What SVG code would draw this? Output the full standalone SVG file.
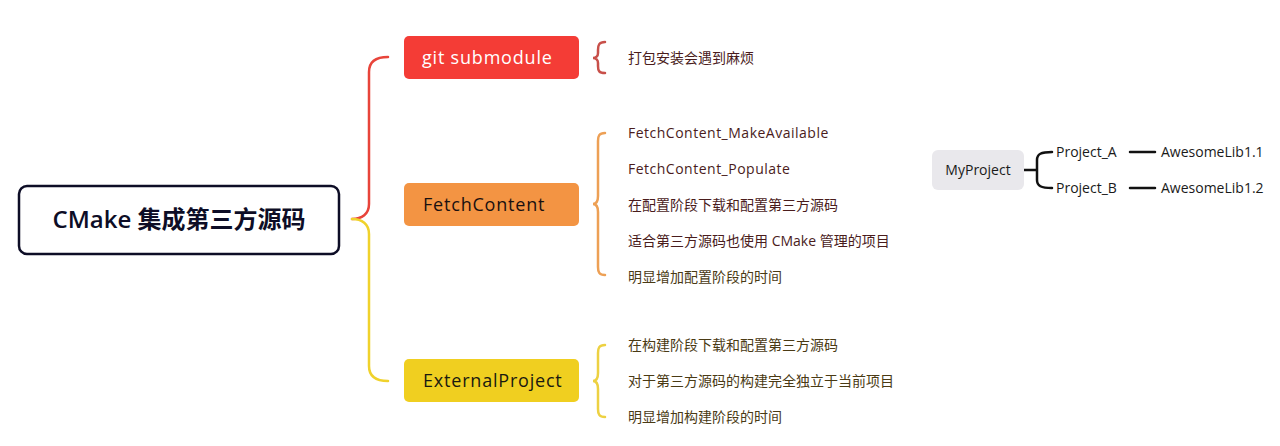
<svg xmlns="http://www.w3.org/2000/svg" width="1280" height="446" viewBox="0 0 1280 446">
<style>
.t{font-family:"Open Sans","Noto Sans CJK SC",sans-serif;}
.leaf{font-size:14px;fill:#4a1c1c;}
.leafY{font-size:14px;fill:#4a3a14;}
.lat{letter-spacing:0.5px;}
.main{font-size:18px;letter-spacing:0.8px;}
.rt{font-size:14px;fill:#1a1a1a;}
.ln{fill:none;stroke-width:2.5;stroke-linecap:round;}
</style>
<rect width="1280" height="446" fill="#ffffff"/>
<g id="connectors">
<path class="ln" stroke="#e8443a" d="M352,219 C362,219 369,214 369,204 L369,72 C369,62 375,57 388,57"/>
<path class="ln" stroke="#f0d22c" d="M352,219 C362,219 369,224 369,234 L369,366 C369,376 375,381 388,381"/>
<path class="ln" stroke="#c8504a" stroke-width="2" d="M605,42 C599,42 598,45 598,50 L598,53 C598,56 596,58 593,58 C596,58 598,60 598,63 L598,66 C598,71 599,73 605,73"/>
<path class="ln" stroke="#eda055" stroke-width="2" d="M605,133 C599,133 598,136 598,141 L598,196 C598,201 596,204 593,204 C596,204 598,207 598,212 L598,267 C598,272 599,275 605,275"/>
<path class="ln" stroke="#edd142" stroke-width="2" d="M605,345 C599,345 598,348 598,353 L598,373 C598,378 596,381 593,381 C596,381 598,384 598,389 L598,409 C598,414 599,417 605,417"/>
<path class="ln" stroke="#111" stroke-width="2" d="M1024,170 L1037,170 M1052,152 C1041,152 1037,154 1037,160 L1037,180 C1037,186 1041,188 1052,188"/>
<path class="ln" stroke="#111" stroke-width="2" d="M1130,152 L1155,152 M1130,188 L1155,188"/>
</g>
<g id="root">
<rect x="19" y="186" width="320" height="68" rx="8" fill="#ffffff" stroke="#0d0d26" stroke-width="2.5"/>
<text class="t" x="179" y="228" text-anchor="middle" font-size="24" font-weight="600" fill="#0d0d26">CMake 集成第三方源码</text>
</g>
<g id="git-submodule">
<rect x="404" y="36" width="175" height="43" rx="5" fill="#f43c36"/>
<text class="t main" x="422" y="64" fill="#ffffff">git submodule</text>
</g>
<g id="git-leaf">
<text class="t leaf" x="628" y="63">打包安装会遇到麻烦</text>
</g>
<g id="fetchcontent">
<rect x="404" y="183" width="175" height="43" rx="5" fill="#f39443"/>
<text class="t main" x="423" y="211" fill="#1a1010">FetchContent</text>
</g>
<g id="fetch-leaves">
<text class="t leaf lat" x="628" y="138">FetchContent_MakeAvailable</text>
<text class="t leaf lat" x="628" y="174">FetchContent_Populate</text>
<text class="t leaf" x="628" y="210">在配置阶段下载和配置第三方源码</text>
<text class="t leaf" x="628" y="246">适合第三方源码也使用 CMake 管理的项目</text>
<text class="t leafY" x="628" y="282">明显增加配置阶段的时间</text>
</g>
<g id="externalproject">
<rect x="404" y="359" width="175" height="43" rx="5" fill="#f0cf20"/>
<text class="t main" x="423" y="387" fill="#1a1a10">ExternalProject</text>
</g>
<g id="external-leaves">
<text class="t leafY" x="628" y="350">在构建阶段下载和配置第三方源码</text>
<text class="t leafY" x="628" y="386">对于第三方源码的构建完全独立于当前项目</text>
<text class="t leafY" x="628" y="422">明显增加构建阶段的时间</text>
</g>
<g id="myproject">
<rect x="932" y="150" width="92" height="40" rx="6" fill="#e9e8ec"/>
<text class="t rt" x="978" y="175" text-anchor="middle">MyProject</text>
</g>
<g id="project-a"><text class="t rt" x="1056" y="157">Project_A</text></g>
<g id="project-b"><text class="t rt" x="1056" y="193">Project_B</text></g>
<g id="lib11"><text class="t rt" x="1161" y="157">AwesomeLib1.1</text></g>
<g id="lib12"><text class="t rt" x="1161" y="193">AwesomeLib1.2</text></g>
</svg>
